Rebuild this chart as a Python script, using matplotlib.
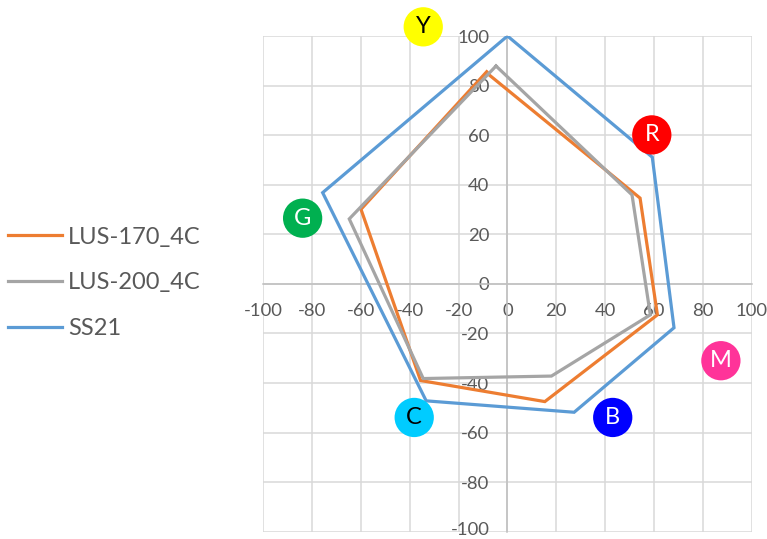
import matplotlib.pyplot as plt
from matplotlib.transforms import ScaledTranslation

plt.rcParams['font.family'] = ['Lato', 'DejaVu Sans']

# Vertex order: Y, R, M, B, C, G, back to Y
lus170_x = [-7.5, 54.3, 61.4, 15.3, -35.6, -60.0, -8.5]
lus170_y = [84.3, 34.6, -12.5, -47.5, -39.0, 30.1, 85.6]
lus200_x = [-4.7, 51.0, 58.5, 18.0, -34.5, -64.8, -4.7]
lus200_y = [87.9, 35.9, -12.5, -37.2, -38.2, 26.2, 87.9]
ss21_x = [0.0, 59.3, 68.2, 27.3, -33.3, -75.7, 0.0]
ss21_y = [100.0, 51.1, -17.7, -51.8, -47.2, 36.8, 100.0]

series_names = ['LUS-170_4C', 'LUS-200_4C', 'SS21']
series_colors = ['#ED7D31', '#A5A5A5', '#5B9BD5']

# colour markers around the chart
marker_letters = ['Y', 'R', 'G', 'M', 'B', 'C']
marker_x = [-34.5, 59.1, -83.9, 87.4, 43.1, -38.2]
marker_y = [103.7, 60.1, 26.5, -31.0, -53.9, -53.9]
marker_fill = ['#FFFF00', '#FF0000', '#00B050', '#FF3399', '#0000FF', '#00CCFF']
marker_text = ['black', 'white', 'white', 'white', 'white', 'black']

ticks = list(range(-100, 101, 20))

fig = plt.figure(figsize=(7.67, 5.39), dpi=100)
ax = fig.add_axes([0.3433, 0.0135, 0.6367, 0.9197])

for xs, ys, name, col in zip([lus170_x, lus200_x, ss21_x],
                             [lus170_y, lus200_y, ss21_y],
                             series_names, series_colors):
    ax.plot(xs, ys, color=col, lw=2.3, label=name, zorder=3,
            solid_joinstyle='miter')

ax.set_xlim(-100, 100)
ax.set_ylim(-100, 100)
ax.set_xticks(ticks)
ax.set_yticks(ticks)
ax.grid(True, color='#D9D9D9', lw=1.1, zorder=0)
ax.set_axisbelow(True)

for side in ['top', 'right']:
    ax.spines[side].set_visible(False)
for side in ['bottom', 'left']:
    ax.spines[side].set_position(('data', 0))
    ax.spines[side].set_color('#BFBFBF')
    ax.spines[side].set_linewidth(1.1)
    ax.spines[side].set_zorder(1)

ax.tick_params(axis='x', length=0, pad=14, labelsize=13.3, labelcolor='#595959')
ax.tick_params(axis='y', length=0, pad=13, labelsize=13.3, labelcolor='#595959')
ax.set_xticklabels([str(t) for t in ticks])
ax.set_yticklabels([str(t) for t in ticks])

# lift the bottom "-100" label a touch so it stays inside the figure
bottom_lbl = ax.get_yticklabels()[0]
bottom_lbl.set_transform(bottom_lbl.get_transform()
                         + ScaledTranslation(0, 2.5 / 72, fig.dpi_scale_trans))

ax.scatter(marker_x, marker_y, s=800, c=marker_fill, clip_on=False,
           zorder=5, linewidths=0)
for lx, ly, let, tc in zip(marker_x, marker_y, marker_letters, marker_text):
    ax.text(lx, ly, let, color=tc, fontsize=17, ha='center', va='center',
            zorder=6, clip_on=False)

fig.legend(loc='center left', bbox_to_anchor=(0.0104, 0.475),
           frameon=False, fontsize=17, handlelength=2.3, handletextpad=0.25,
           labelspacing=1.05, borderpad=0, borderaxespad=0,
           labelcolor='#595959')

fig.savefig('out.png', dpi=100)
